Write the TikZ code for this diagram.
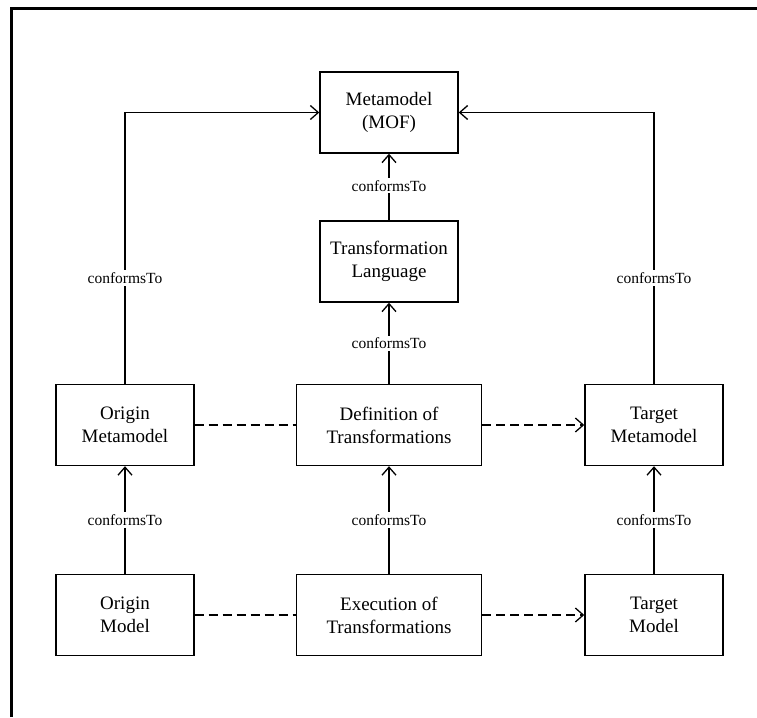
\documentclass[tikz,border=0pt]{standalone}
\usepackage{fontspec}
\setmainfont{Liberation Serif}
\usetikzlibrary{arrows.meta}
\begin{document}
\begin{tikzpicture}[x=1pt,y=-1pt,
  box/.style={draw,line width=1.4pt,align=center,inner sep=0pt,
    minimum width=138pt,minimum height=81pt,
    font=\fontsize{19}{23}\selectfont},
  widebox/.style={box,minimum width=185pt},
  link/.style={line width=1.4pt},
  tip/.style={-{Straight Barb[length=8pt,width=14pt,line width=1.3pt]}},
  dashlink/.style={link,dash pattern=on 9pt off 5pt},
  lbl/.style={fill=white,inner sep=2pt,font=\fontsize{15.5}{18}\selectfont}]
\useasboundingbox (0,0) rectangle (757,717);
% frame along the top and left edges
\draw[line width=3pt] (11,717) -- (11,9) -- (757,9);

% boxes
\node[box] (meta) at (389,112.5) {Metamodel\\(MOF)};
\node[box] (lang) at (389,261.5) {Transformation\\Language};
\node[box] (om) at (125,425) {Origin\\Metamodel};
\node[widebox] (def) at (389,425) {Definition of\\Transformations};
\node[box] (tm) at (654,425) {Target\\Metamodel};
\node[box] (omod) at (125,615) {Origin\\Model};
\node[widebox] (exe) at (389,615) {Execution of\\Transformations};
\node[box] (tmod) at (654,615) {Target\\Model};

% conformance links
\draw[link,tip] (lang) -- node[lbl,pos=0.52] {conformsTo} (meta);
\draw[link,tip] (def) -- node[lbl] {conformsTo} (lang);
\draw[link,tip] (omod) -- node[lbl] {conformsTo} (om);
\draw[link,tip] (exe) -- node[lbl] {conformsTo} (def);
\draw[link,tip] (tmod) -- node[lbl] {conformsTo} (tm);
\draw[link,tip] (om.north) -- node[lbl,pos=0.39] {conformsTo} (om.north |- meta.west) -- (meta.west);
\draw[link,tip] (tm.north) -- node[lbl,pos=0.39] {conformsTo} (tm.north |- meta.east) -- (meta.east);

% transformation flow
\draw[dashlink] (om) -- (def);
\draw[dashlink,tip] (def) -- (tm);
\draw[dashlink] (omod) -- (exe);
\draw[dashlink,tip] (exe) -- (tmod);
\end{tikzpicture}
\end{document}
